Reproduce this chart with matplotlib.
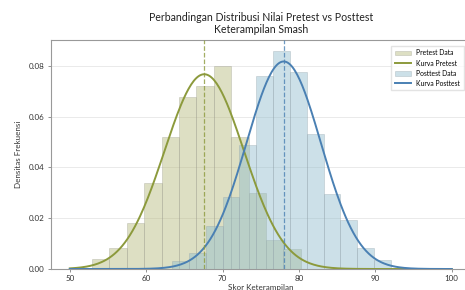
import numpy as np
import matplotlib
matplotlib.use("Agg")
import matplotlib.pyplot as plt

# data
pre_edges = [52.89, 55.17, 57.45, 59.73, 62.01, 64.29, 66.57, 68.85, 71.13, 73.41, 75.69, 77.97, 80.25]
pre_density = [0.0041, 0.0082, 0.0183, 0.0338, 0.0521, 0.0679, 0.0722, 0.0800, 0.0520, 0.0300, 0.0114, 0.0078]
post_edges = [63.39, 65.59, 67.80, 70.00, 72.20, 74.41, 76.61, 78.81, 81.02, 83.22, 85.42, 87.63, 89.83, 92.03]
post_density = [0.0033, 0.0062, 0.0169, 0.0283, 0.0489, 0.0762, 0.0859, 0.0775, 0.0531, 0.0296, 0.0193, 0.0082, 0.0035]
pre_mean, pre_sd = 67.6, 5.2
post_mean, post_sd = 78.0, 4.88
x_ticks = [50, 60, 70, 80, 90, 100]
y_ticks = [0.00, 0.02, 0.04, 0.06, 0.08]

c_pre_fill = "#b5b97a"
c_pre_line = "#8c9a3c"
c_post_fill = "#8fbccc"
c_post_line = "#4a80b3"

plt.rcParams['font.family'] = ['Lato', 'DejaVu Sans']

fig = plt.figure(figsize=(4.65, 2.9), dpi=100)
ax = fig.add_axes([0.109, 0.0724, 0.9036, 0.7896])

pe = np.array(pre_edges)
qe = np.array(post_edges)
b1 = ax.bar(pe[:-1], pre_density, width=np.diff(pe), align='edge', color=c_pre_fill,
            alpha=0.45, edgecolor='#9a9a90', linewidth=0.5, zorder=2)
b2 = ax.bar(qe[:-1], post_density, width=np.diff(qe), align='edge', color=c_post_fill,
            alpha=0.45, edgecolor='#90a0a8', linewidth=0.5, zorder=3)

# kurva normal dari mean dan sd
xs = np.linspace(50, 100, 300)
pdf_pre = np.exp(-0.5 * ((xs - pre_mean) / pre_sd) ** 2) / (pre_sd * np.sqrt(2 * np.pi))
pdf_post = np.exp(-0.5 * ((xs - post_mean) / post_sd) ** 2) / (post_sd * np.sqrt(2 * np.pi))
l1, = ax.plot(xs, pdf_pre, color=c_pre_line, lw=1.4, zorder=4)
l2, = ax.plot(xs, pdf_post, color=c_post_line, lw=1.4, zorder=4)

ax.axvline(pre_mean, color=c_pre_line, ls='--', lw=0.9, alpha=0.8, zorder=4)
ax.axvline(post_mean, color=c_post_line, ls='--', lw=0.9, alpha=0.8, zorder=4)

ax.set_xlim(47.5, 102.5)
ax.set_ylim(0, 0.0902)
ax.set_xticks(x_ticks)
ax.set_yticks(y_ticks)
ax.set_yticklabels([f"{v:.2f}" for v in y_ticks])
ax.tick_params(labelsize=5.8, length=2.5, width=0.5, color='#666666', pad=2,
               labelcolor='#333333')
ax.grid(axis='y', color='#e6e6e6', lw=0.6, zorder=0)
ax.set_axisbelow(True)
for s in ax.spines.values():
    s.set_color('#999999')
    s.set_linewidth(0.8)

ax.set_xlabel('Skor Keterampilan', fontsize=5.8, labelpad=1, color='#333333')
ax.set_ylabel('Densitas Frekuensi', fontsize=5.8, labelpad=5, color='#333333')
ax.set_title('Perbandingan Distribusi Nilai Pretest vs Posttest\nKeterampilan Smash',
             fontsize=7.6, linespacing=1.15, pad=5, color='#222222')

ax.legend([b1, l1, b2, l2], ['Pretest Data', 'Kurva Pretest', 'Posttest Data', 'Kurva Posttest'],
          loc='upper right', bbox_to_anchor=(0.992, 0.99), fontsize=4.9, frameon=True,
          edgecolor='#dddddd', fancybox=False, handlelength=2.4, borderpad=0.55,
          labelspacing=0.45)

plt.savefig('out.png', dpi=100)
